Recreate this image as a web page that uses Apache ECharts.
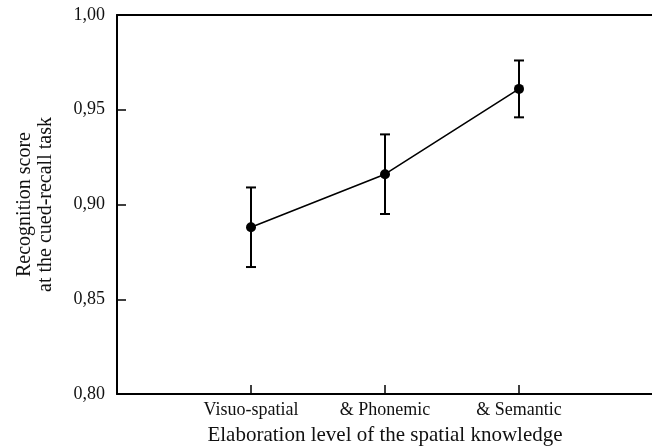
<!DOCTYPE html>
<html><head><meta charset="utf-8">
<script src="https://cdn.jsdelivr.net/npm/echarts@6/dist/echarts.min.js"></script>
<style>html,body{margin:0;padding:0;background:#fff}#c{width:652px;height:446px}</style>
</head><body><div id="c"></div>
<script>
const categories = ['Visuo-spatial', '& Phonemic', '& Semantic'];
const means = [0.888, 0.916, 0.961];
const upper = [0.909, 0.937, 0.976];
const lower = [0.867, 0.895, 0.946];
const yTicks = [0.80, 0.85, 0.90, 0.95, 1.00];

const font = '"Liberation Serif", "DejaVu Serif", serif';
const pts = means.map((m, i) => [i + 1, m]);
const errs = categories.map((c, i) => [i + 1, lower[i], upper[i]]);
const xPos = categories.map((c, i) => i + 1);

const chart = echarts.init(document.getElementById('c'));
chart.setOption({
  animation: false,
  grid: { left: 117, right: -1, top: 15, bottom: 52, outerBoundsMode: 'none', containLabel: false },
  xAxis: [{
    type: 'value', min: 0, max: 4, interval: 1,
    axisLine: { show: true, lineStyle: { color: '#000', width: 2 } },
    axisTick: { show: true, inside: true, length: 9, customValues: xPos, lineStyle: { color: '#000', width: 1.5 } },
    splitLine: { show: false },
    axisLabel: {
      color: '#111', fontFamily: font, fontSize: 18, margin: 7,
      customValues: xPos,
      formatter: v => categories[Math.round(v) - 1] || ''
    },
    name: 'Elaboration level of the spatial knowledge',
    nameLocation: 'middle', nameGap: 31,
    nameTextStyle: { color: '#111', fontFamily: font, fontSize: 21 }
  }, {
    type: 'value', min: 0, max: 4, position: 'top',
    axisLine: { show: true, lineStyle: { color: '#000', width: 2 } },
    axisTick: { show: false }, axisLabel: { show: false }, splitLine: { show: false }
  }],
  yAxis: {
    type: 'value', min: yTicks[0], max: yTicks[yTicks.length - 1], interval: 0.05,
    axisLine: { show: true, lineStyle: { color: '#000', width: 2 } },
    axisTick: { show: true, inside: true, length: 9, lineStyle: { color: '#000', width: 1.5 } },
    splitLine: { show: false },
    axisLabel: {
      color: '#111', fontFamily: font, fontSize: 18, margin: 12,
      formatter: v => v.toFixed(2).replace('.', ',')
    },
    name: 'Recognition score\nat the cued-recall task',
    nameLocation: 'middle', nameRotate: 90, nameGap: 61,
    nameTextStyle: { color: '#111', fontFamily: font, fontSize: 20, lineHeight: 21 }
  },
  series: [{
    type: 'custom',
    data: errs,
    z: 3,
    renderItem: function (params, api) {
      const x = api.value(0);
      const lo = api.coord([x, api.value(1)]);
      const hi = api.coord([x, api.value(2)]);
      const w = 5;
      const st = { stroke: '#000', lineWidth: 2 };
      return { type: 'group', children: [
        { type: 'line', shape: { x1: lo[0], y1: lo[1], x2: hi[0], y2: hi[1] }, style: st },
        { type: 'line', shape: { x1: lo[0] - w, y1: lo[1], x2: lo[0] + w, y2: lo[1] }, style: st },
        { type: 'line', shape: { x1: hi[0] - w, y1: hi[1], x2: hi[0] + w, y2: hi[1] }, style: st }
      ]};
    }
  }, {
    type: 'line',
    data: pts,
    z: 4,
    symbol: 'circle', symbolSize: 10,
    itemStyle: { color: '#000' },
    lineStyle: { color: '#000', width: 1.6 }
  }]
});
</script></body></html>
